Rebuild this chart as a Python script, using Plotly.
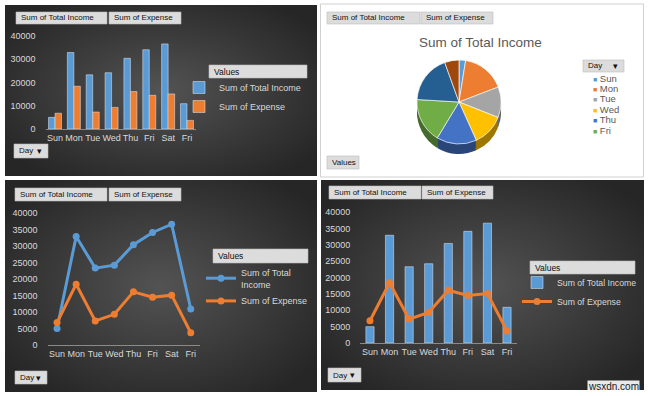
import base64
import plotly.graph_objects as go

W, H = 650, 396

# ---------------- data ----------------
days = ["Sun", "Mon", "Tue", "Wed", "Thu", "Fri", "Sat", "Fri"]
income = [5000, 32900, 23300, 24200, 30400, 34100, 36600, 10900]
expense = [6800, 18400, 7300, 9300, 16100, 14500, 15100, 3700]
series_names = ["Sum of Total Income", "Sum of Expense"]
pie_title = "Sum of Total Income"
pie_legend_days = days[:6]          # Excel shows only the first six entries
pie_colors = ["#5B9BD5", "#ED7D31", "#A5A5A5", "#FFC000",
              "#4472C4", "#70AD47", "#255E91", "#9E480E"]
BLUE, ORANGE = "#5B9BD5", "#ED7D31"
xpos = list(range(len(days)))

FONT = "Liberation Sans"
TXT = "#d9d9d9"


def px_x(x):
    return x / W


def px_y(y):
    return 1 - y / H


def darker(hexc, f=0.62):
    h = hexc.lstrip("#")
    r, g, b = (int(h[i:i + 2], 16) for i in (0, 2, 4))
    return "#%02x%02x%02x" % (int(r * f), int(g * f), int(b * f))


fig = go.Figure()

# ---------------- top-left: clustered columns ----------------
fig.add_trace(go.Bar(x=xpos, y=income, name=series_names[0], marker_color=BLUE,
                     xaxis="x", yaxis="y", legend="legend", text=days, textposition="none",
                     hovertemplate="%{text}: %{y}<extra></extra>"))
fig.add_trace(go.Bar(x=xpos, y=expense, name=series_names[1], marker_color=ORANGE,
                     xaxis="x", yaxis="y", legend="legend", text=days, textposition="none",
                     hovertemplate="%{text}: %{y}<extra></extra>"))

# ---------------- bottom-left: lines ----------------
fig.add_trace(go.Scatter(x=xpos, y=income, mode="lines+markers",
                         name=series_names[0].replace("Total ", "Total<br>"),
                         line=dict(color=BLUE, width=3), marker=dict(size=7, color=BLUE),
                         xaxis="x2", yaxis="y2", legend="legend2"))
fig.add_trace(go.Scatter(x=xpos, y=expense, mode="lines+markers", name=series_names[1],
                         line=dict(color=ORANGE, width=3), marker=dict(size=7, color=ORANGE),
                         xaxis="x2", yaxis="y2", legend="legend2"))

# ---------------- bottom-right: combo ----------------
fig.add_trace(go.Bar(x=xpos, y=income, name=series_names[0], marker_color=BLUE,
                     width=0.42, xaxis="x3", yaxis="y3", legend="legend3"))
fig.add_trace(go.Scatter(x=xpos, y=expense, mode="lines+markers", name=series_names[1],
                         line=dict(color=ORANGE, width=3), marker=dict(size=7, color=ORANGE),
                         xaxis="x3", yaxis="y3", legend="legend3"))

# ---------------- top-right: pie (with extruded "3D" side) ----------------
pie_labels = [f"{i + 1}. {d}" for i, d in enumerate(days)]
cx, top, dia = 459, 60, 84
for k in (10, 8, 6, 4, 2):
    fig.add_trace(go.Pie(labels=pie_labels, values=income, sort=False,
                         direction="clockwise", rotation=0, textinfo="none",
                         hoverinfo="skip", showlegend=False,
                         marker=dict(colors=[darker(c) for c in pie_colors],
                                     line=dict(width=0)),
                         domain=dict(x=[px_x(cx - dia / 2), px_x(cx + dia / 2)],
                                     y=[px_y(top + dia + k), px_y(top + k)])))
fig.add_trace(go.Pie(labels=pie_labels, values=income, sort=False,
                     direction="clockwise", rotation=0, textinfo="none",
                     text=days, hovertemplate="%{text}: %{value}<extra></extra>",
                     showlegend=False,
                     marker=dict(colors=pie_colors,
                                 line=dict(color="rgba(255,255,255,0.85)", width=0.8)),
                     domain=dict(x=[px_x(cx - dia / 2), px_x(cx + dia / 2)],
                                 y=[px_y(top + dia), px_y(top)])))


# ---------------- axes ----------------
def xax(x0, x1):
    return dict(domain=[px_x(x0), px_x(x1)], range=[-0.5, len(days) - 0.5],
                tickvals=xpos, ticktext=days, tickangle=0, showgrid=False, zeroline=False,
                showline=True, linecolor="#8a8a8a", linewidth=1, ticks="",
                automargin=False,
                tickfont=dict(size=9, color=TXT, family=FONT), fixedrange=True)


def yax(y_top, y_bot, dtick):
    return dict(domain=[px_y(y_bot), px_y(y_top)], range=[0, 40000], dtick=dtick,
                showgrid=False, zeroline=False, showline=False, ticks="",
                tickformat="d", ticklabelstandoff=9, automargin=False,
                tickfont=dict(size=9, color=TXT, family=FONT), fixedrange=True)


layout_axes = dict(
    xaxis=dict(xax(45.6, 196.4), anchor="y"),
    yaxis=dict(yax(36, 129, 10000), anchor="x"),
    xaxis2=dict(xax(47.5, 200.3), anchor="y2"),
    yaxis2=dict(yax(213, 345, 5000), anchor="x2"),
    xaxis3=dict(xax(360.2, 516.8), anchor="y3"),
    yaxis3=dict(yax(212, 343, 5000), anchor="x3"),
)


# ---------------- panel backgrounds ----------------
def dark_panel(x0, y0, x1, y1):
    w, h = x1 - x0, y1 - y0
    svg = (f'<svg xmlns="http://www.w3.org/2000/svg" width="{w}" height="{h}" '
           f'viewBox="0 0 {w} {h}" preserveAspectRatio="none"><defs>'
           f'<radialGradient id="g" cx="50%" cy="50%" r="62%">'
           f'<stop offset="0" stop-color="#535353"/>'
           f'<stop offset="1" stop-color="#262626"/></radialGradient></defs>'
           f'<rect width="{w}" height="{h}" fill="url(#g)"/></svg>')
    src = "data:image/svg+xml;base64," + base64.b64encode(svg.encode()).decode()
    return dict(source=src, xref="paper", yref="paper", x=px_x(x0), y=px_y(y0),
                sizex=w / W, sizey=h / H, xanchor="left", yanchor="top",
                sizing="stretch", layer="below")


images = [dark_panel(5, 5, 317, 176), dark_panel(5, 180, 317, 392),
          dark_panel(321, 180, 644, 390)]

shapes = [dict(type="rect", xref="paper", yref="paper", x0=px_x(320.5), x1=px_x(643.5),
               y0=px_y(177), y1=px_y(4), line=dict(color="#d0d0d0", width=1),
               fillcolor="white", layer="below")]

annotations = []


def text_at(x, y, text, size=8, color="#111", xanchor="left"):
    annotations.append(dict(xref="paper", yref="paper", x=px_x(x), y=px_y(y),
                            xanchor=xanchor, yanchor="middle", text=text,
                            showarrow=False, font=dict(size=size, color=color, family=FONT)))


def button(x0, y0, x1, y1, text, size=8, arrow=False):
    shapes.append(dict(type="rect", xref="paper", yref="paper",
                       x0=px_x(x0), x1=px_x(x1), y0=px_y(y1), y1=px_y(y0),
                       fillcolor="#dcdcdc", line=dict(width=0.6, color="#bdbdbd"),
                       layer="above"))
    text_at(x0 + 3, (y0 + y1) / 2, text, size)
    if arrow:
        text_at(x1 - 4, (y0 + y1) / 2, "▾", size + 1, xanchor="right")


# field buttons
for (a0, a1, b0, b1, yy0, yy1) in [(16, 107, 109, 181, 12, 24),
                                   (327, 420, 421, 493, 12, 24),
                                   (15, 107, 109, 181, 188, 201),
                                   (329, 421, 422, 493, 186, 199)]:
    button(a0, yy0, a1, yy1, series_names[0])
    button(b0, yy0, b1, yy1, series_names[1])

# Day buttons
button(14, 144, 48, 158, "Day", arrow=True)
button(15, 371, 47, 384, "Day", arrow=True)
button(328, 368, 361, 382, "Day", arrow=True)
# Values buttons / headers
button(327, 156, 359, 169, "Values")
button(209, 65, 307, 78, "Values", 8.5)
button(213, 249, 308, 263, "Values", 8.5)
button(530, 261, 635, 274, "Values", 8.5)
# pie legend header
button(583, 60, 624, 72, "Day", arrow=True)

# pie title
text_at(480, 43, pie_title, 13.5, "#595959", xanchor="center")

# pie legend entries
for i, (d, c) in enumerate(zip(pie_legend_days, pie_colors)):
    text_at(591, 78 + i * 10.4,
            f"<span style='color:{c};font-size:7px'>■</span> {d}", 9.5, "#595959")

# watermark
annotations.append(dict(xref="paper", yref="paper", x=px_x(640), y=px_y(386),
                        xanchor="right", yanchor="middle", showarrow=False,
                        text="wsxdn.com", bgcolor="rgba(255,255,255,0.9)", borderpad=0,
                        font=dict(size=10, color="#1a1a1a", family=FONT)))

leg_common = dict(xanchor="left", yanchor="top", bgcolor="rgba(0,0,0,0)",
                  font=dict(size=9, color=TXT, family=FONT), tracegroupgap=0,
                  itemclick=False, itemdoubleclick=False)

fig.update_layout(
    width=W, height=H, margin=dict(l=0, r=0, t=0, b=0, autoexpand=False),
    paper_bgcolor="white", plot_bgcolor="rgba(0,0,0,0)",
    font=dict(family=FONT),
    barmode="group", bargap=0.31, bargroupgap=0,
    showlegend=True,
    legend=dict(leg_common, x=px_x(179), y=px_y(73)),
    legend2=dict(leg_common, x=px_x(201), y=px_y(260)),
    legend3=dict(leg_common, x=px_x(517), y=px_y(268),
                 font=dict(size=8.7, color=TXT, family=FONT)),
    images=images, shapes=shapes, annotations=annotations,
    **layout_axes,
)

fig.write_html("out.html", config={"displayModeBar": False},
               post_script="document.body.style.margin='0px';"
                           "document.body.style.overflow='hidden';")
